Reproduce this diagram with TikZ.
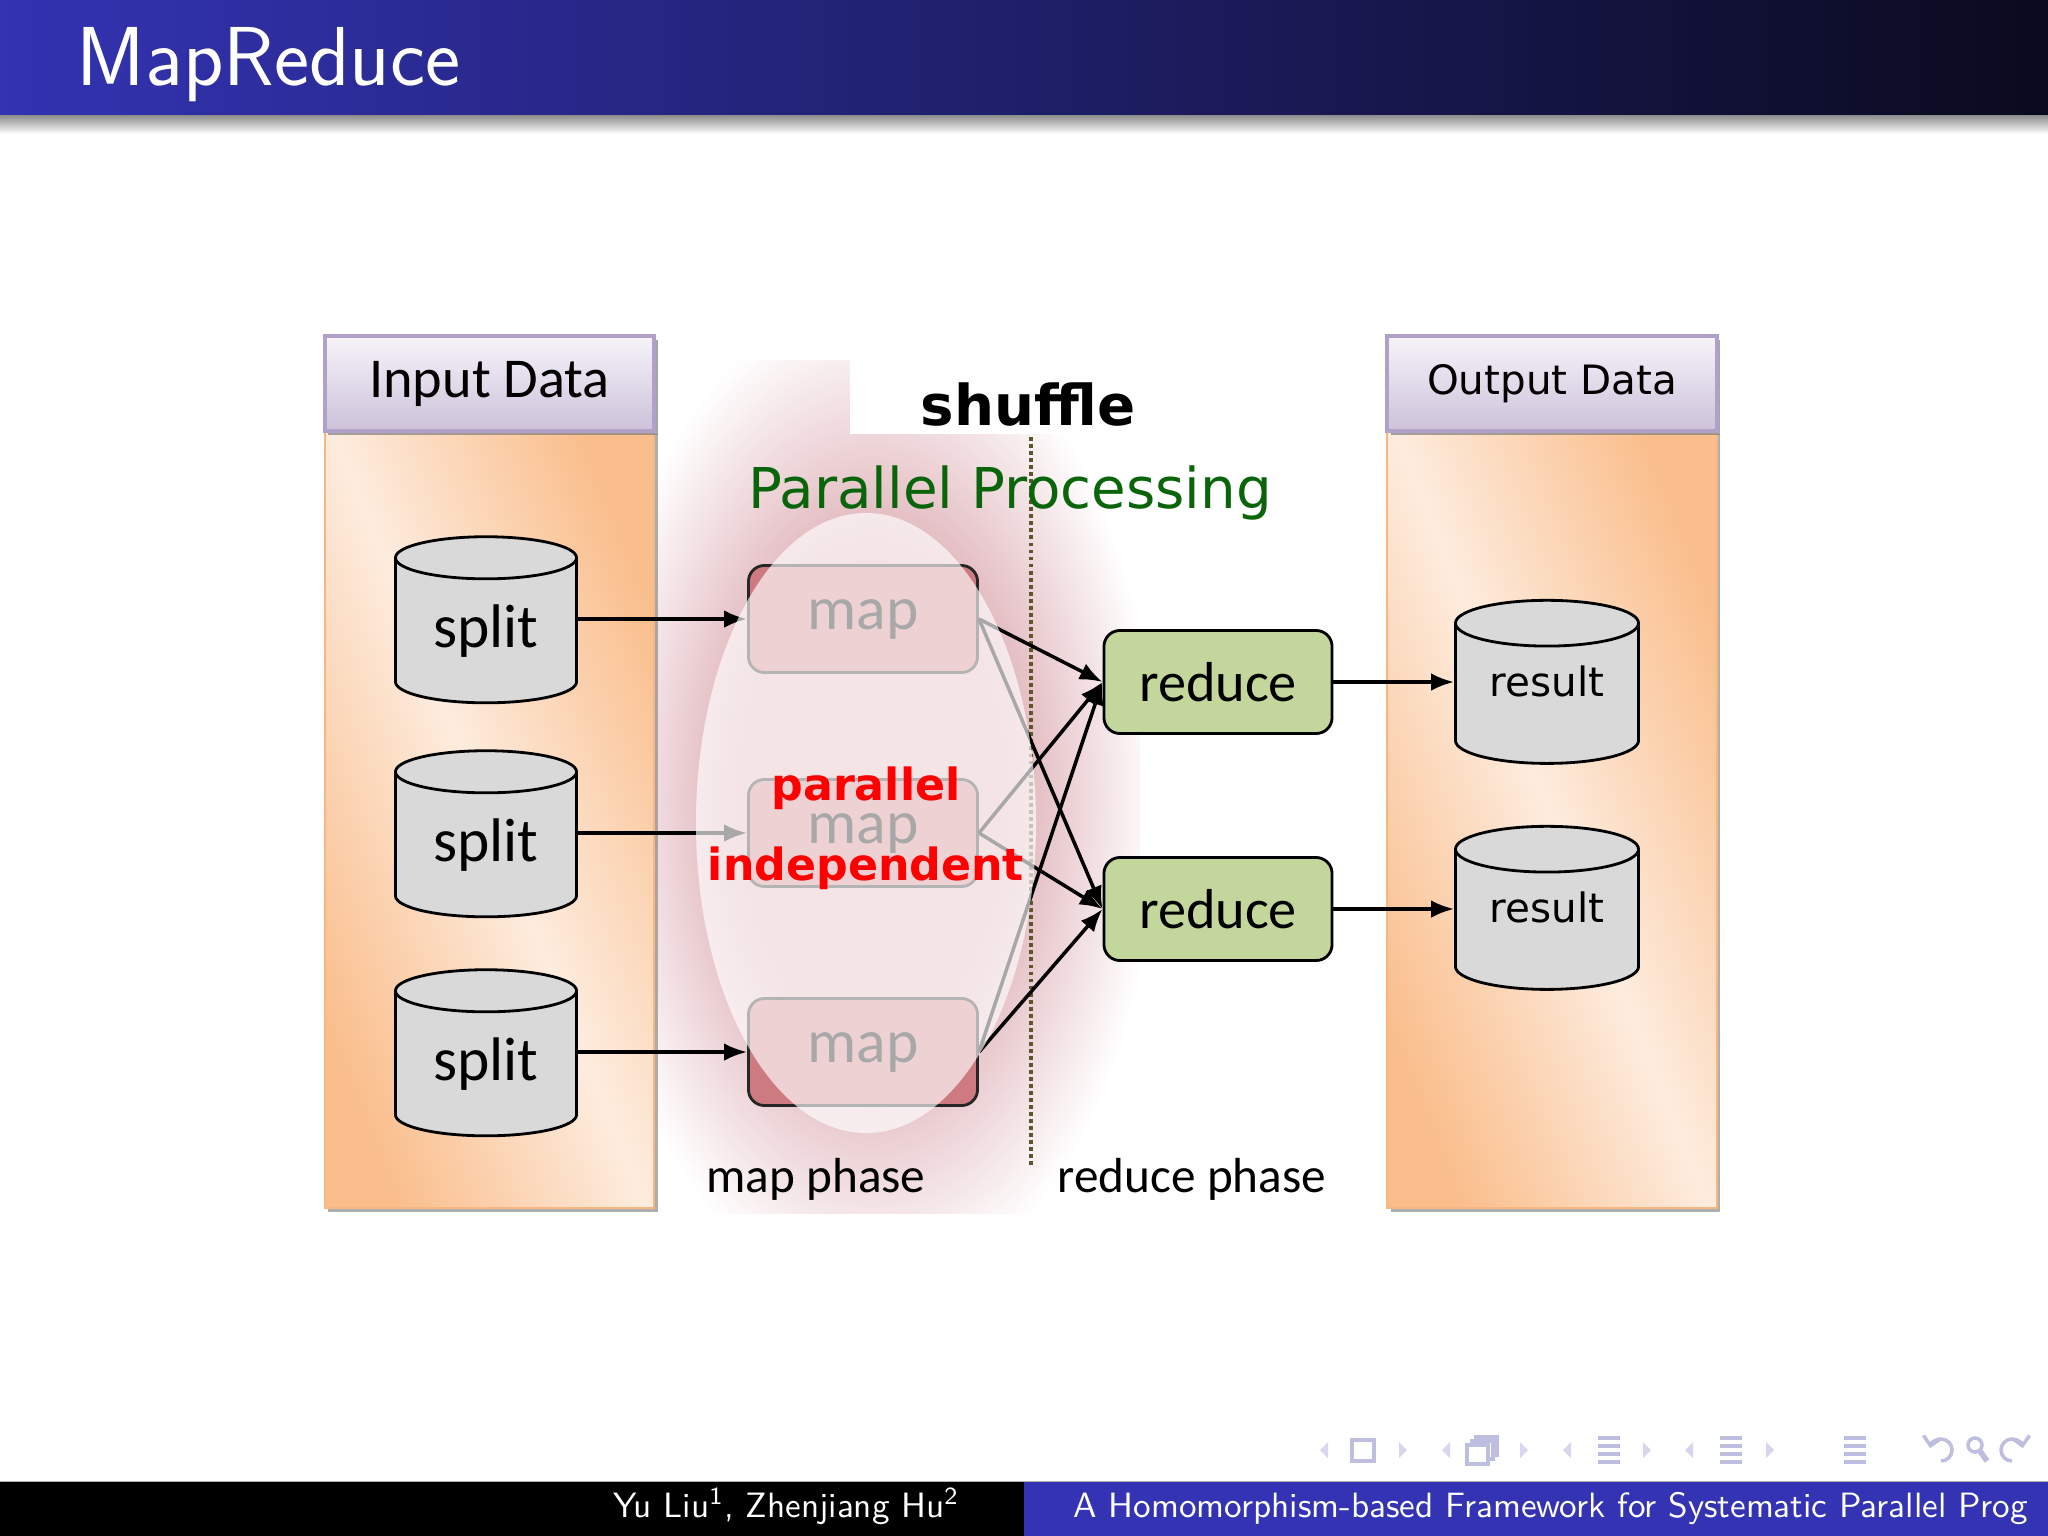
\documentclass[tikz,border=0pt]{standalone}
\usepackage{fontspec}
\newfontfamily\calfont{Carlito}
\newfontfamily\djfont{DejaVu Sans}
\usepackage{xcolor}
\definecolor{beamerblue}{RGB}{51,51,179}
\definecolor{titledark}{RGB}{10,10,30}
\definecolor{peachdark}{RGB}{250,190,140}
\definecolor{peachlight}{RGB}{253,236,222}
\definecolor{panelline}{RGB}{248,182,128}
\definecolor{lavtop}{RGB}{246,244,250}
\definecolor{lavbot}{RGB}{204,193,218}
\definecolor{lavline}{RGB}{177,160,199}
\definecolor{cylgray}{RGB}{217,217,217}
\definecolor{mapred}{RGB}{205,122,128}
\definecolor{reducegreen}{RGB}{195,214,155}
\definecolor{glowpink}{RGB}{223,178,184}
\definecolor{procgreen}{RGB}{10,100,10}
\definecolor{shuffleline}{RGB}{95,85,45}
\definecolor{navgray}{RGB}{190,190,224}
\definecolor{navlight}{RGB}{214,214,236}
\usepackage{tikz}
\usetikzlibrary{shapes.geometric, arrows.meta, shadows}
\pgfdeclareradialshading{mapglow}{\pgfpoint{0bp}{0bp}}{color(0bp)=(glowpink); color(12bp)=(glowpink); color(25bp)=(white); color(50bp)=(white)}

\begin{document}
\begin{tikzpicture}[x=0.01cm, y=-0.01cm,
	panel/.style={rectangle, draw=panelline, line width=0.6pt, top color=peachdark, bottom color=peachdark,
	              middle color=peachlight, shading angle=112, minimum width=3.29cm, minimum height=7.77cm, inner sep=0pt,
	              drop shadow={shadow xshift=1pt, shadow yshift=-1pt, fill=black!45, opacity=0.7}},
	headbox/.style={rectangle, draw=lavline, line width=1.1pt, top color=lavtop, bottom color=lavbot,
	              minimum width=3.29cm, minimum height=0.95cm, inner sep=0pt,
	              drop shadow={shadow xshift=1pt, shadow yshift=-1.2pt, fill=black!50, opacity=0.7}},
	db/.style={cylinder, shape border rotate=90, aspect=0.4, draw=black, line width=0.8pt, fill=cylgray,
	              minimum width=1.81cm, minimum height=1.66cm, inner sep=0pt},
	resdb/.style={db, minimum width=1.83cm, minimum height=1.63cm, text depth=7.4pt,
	              font=\djfont\fontsize{11.5}{14}\selectfont},
	mapbox/.style={rectangle, rounded corners=0.16cm, draw=black!85, line width=0.8pt, fill=mapred,
	              minimum width=2.29cm, minimum height=1.07cm, font=\calfont\fontsize{17.5}{20}\selectfont},
	redbox/.style={rectangle, rounded corners=0.16cm, draw=black, line width=0.8pt, fill=reducegreen,
	              minimum width=2.28cm, minimum height=1.03cm, font=\calfont\fontsize{16}{19}\selectfont},
	arr/.style={-{Latex[length=6.5pt, width=5pt]}, line width=1pt, draw=black},
	phase/.style={font=\calfont\fontsize{14}{17}\selectfont, anchor=base, inner sep=0pt},
	redword/.style={font=\djfont\bfseries\fontsize{12.6}{15}\selectfont, text=red, anchor=base, inner sep=0pt},
	navsym/.style={draw=navgray, line width=1pt}
	]
\useasboundingbox (0,0) rectangle (2048,1536);

\shade[left color=beamerblue, right color=titledark] (0,0) rectangle (2048,115);
\shade[top color=black!45, bottom color=white] (0,115) rectangle (2048,134);
\node[anchor=base west, inner sep=0pt, text=white, font=\sffamily\fontsize{23.8}{28}\selectfont] (title) at (76,85) {MapReduce};

\begin{scope}
\clip (640,360) rectangle (1140,1213);
\shade[shading=mapglow] (872,800) ellipse (285 and 500);
\end{scope}
\fill[white] (850,360) rectangle (1145,434);

\node[panel] (inbody) at (489.5,819.5) {};
\node[headbox, font=\calfont\fontsize{16}{19}\selectfont] (inhead) at (489.5,383.5) {Input Data};
\node[panel] (outbody) at (1552,819.5) {};
\node[headbox, font=\djfont\fontsize{11.5}{14}\selectfont] (outhead) at (1552,383.5) {Output Data};

\coordinate (shtop) at (1031,437);
\coordinate (shbot) at (1031,1168);
\draw[shuffleline, line width=1.2pt, dash pattern=on 1.1pt off 0.9pt] (shtop) -- (shbot);

\node[db, font=\calfont\fontsize{17.5}{20}\selectfont] (split1) at (486,631) {split};
\node[db, font=\calfont\fontsize{17.5}{20}\selectfont] (split2) at (486,845) {split};
\node[db, font=\calfont\fontsize{17.5}{20}\selectfont] (split3) at (486,1064) {split};

\node[mapbox] (map1) at (863,619) {map};
\node[mapbox] (map2) at (863,833) {map};
\node[mapbox] (map3) at (863,1052) {map};

\node[redbox] (red1) at (1218,682) {reduce};
\node[redbox] (red2) at (1218,909) {reduce};

\node[resdb] (res1) at (1547,694) {result};
\node[resdb] (res2) at (1547,920) {result};

\foreach \i in {1,2,3} \draw[arr] (split\i.0 |- map\i) -- (map\i);
\foreach \m in {map1,map2,map3} \foreach \r in {red1,red2} \draw[arr] (\m.east) -- (\r.west);
\foreach \i in {1,2} \draw[arr] (red\i) -- (res\i.180 |- red\i);

\fill[white, opacity=0.66] (866,823) ellipse (170 and 310);

\node[anchor=base, inner sep=0pt, font=\djfont\bfseries\fontsize{16}{19}\selectfont] (shuffle) at (1028,425) {shuffle};
\node[anchor=base, inner sep=0pt, text=procgreen, font=\djfont\fontsize{16}{19}\selectfont] (proc) at (1010,508) {Parallel Processing};
\node[redword] (par) at (866,800) {parallel};
\node[redword] (indep) at (866,880) {independent};
\node[phase] (mphase) at (816,1192) {map phase};
\node[phase] (rphase) at (1192,1192) {reduce phase};

\foreach \x in {1324,1446,1567,1689} \fill[navlight] (\x-4,1450) -- (\x+4,1442) -- (\x+4,1458) -- cycle;
\foreach \x in {1403,1524,1647,1770} \fill[navlight] (\x+4,1450) -- (\x-4,1442) -- (\x-4,1458) -- cycle;
\draw[navsym] (1352,1440) rectangle (1374,1461);
\draw[navsym, fill=white] (1476,1437) rectangle (1497,1455);
\draw[navsym, fill=white] (1472,1441) rectangle (1493,1459);
\draw[navsym, fill=white] (1467,1445) rectangle (1488,1464);
\foreach \x in {1598,1720,1844} \foreach \yy in {1438,1446,1454,1462} \fill[navgray] (\x,\yy-1.6) rectangle (\x+22,\yy+1.6);
\draw[navsym, -{Straight Barb[length=2.5pt]}] (1941,1461) arc[start angle=90, end angle=-170, radius=11];
\draw[navsym] (1975,1445) circle (7);
\draw[navsym, line width=1.6pt] (1980,1451) -- (1987,1461);
\draw[navsym, -{Straight Barb[length=2.5pt]}] (2012,1461) arc[start angle=90, end angle=350, radius=11];

\draw[black!30, line width=0.5pt] (0,1481.5) -- (2048,1481.5);
\fill[black] (0,1482) rectangle (1024,1536);
\fill[beamerblue] (1024,1482) rectangle (2048,1536);
\node[anchor=base east, inner sep=0pt, text=white, font=\sffamily\fontsize{10}{12}\selectfont] (author) at (960,1517) {Yu Liu\textsuperscript{1}, Zhenjiang Hu\textsuperscript{2}};
\node[anchor=base west, inner sep=0pt, text=white, font=\sffamily\fontsize{10}{12}\selectfont] (talk) at (1073,1517) {A Homomorphism-based Framework for Systematic Parallel Prog};
\end{tikzpicture}
\end{document}
